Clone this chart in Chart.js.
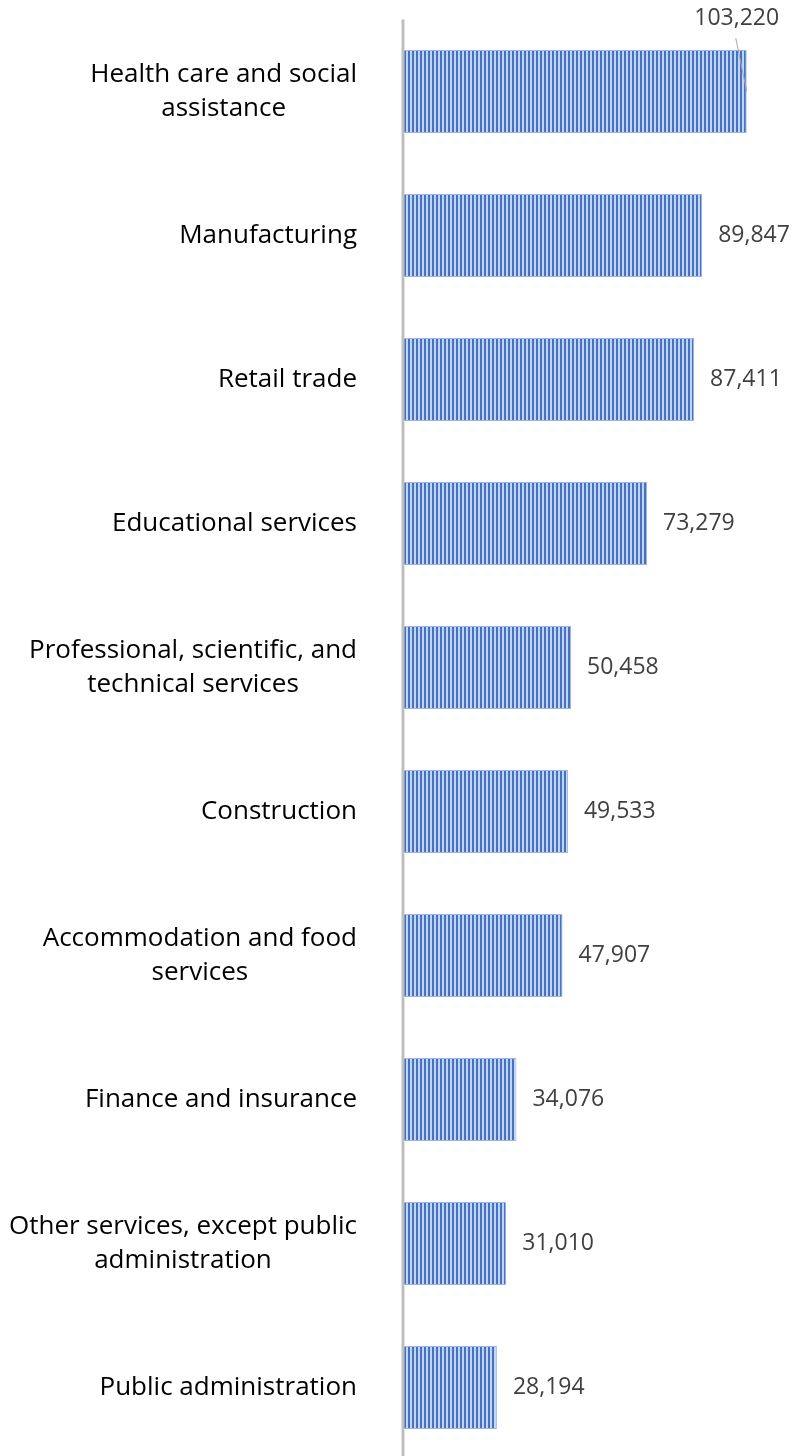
<!DOCTYPE html>
<html>
<head>
<meta charset="utf-8">
<script src="https://cdn.jsdelivr.net/npm/chart.js@4"></script>
<style>
  html, body { margin: 0; padding: 0; background: #fff; overflow: hidden; }
  #wrap { width: 804px; height: 1460px; }
</style>
</head>
<body>
<div id="wrap"><canvas id="chart"></canvas></div>
<script>
const industries = [
  ["Health care and social", "assistance"],
  ["Manufacturing"],
  ["Retail trade"],
  ["Educational services"],
  ["Professional, scientific, and", "technical services"],
  ["Construction"],
  ["Accommodation and food", "services"],
  ["Finance and insurance"],
  ["Other services, except public", "administration"],
  ["Public administration"]
];
const employees = [103220, 89847, 87411, 73279, 50458, 49533, 47907, 34076, 31010, 28194];
const axisMax = 120000;

// striped fill like the Excel pattern
const makeStripes = () => {
  const c = document.createElement("canvas");
  c.width = 4;
  c.height = 4;
  const g = c.getContext("2d");
  g.fillStyle = "#C3D3F0";
  g.fillRect(0, 0, 4, 4);
  g.fillStyle = "#4472C4";
  g.fillRect(0, 0, 2, 4);
  return g.createPattern(c, "repeat");
};

const fmt = (v) => v.toLocaleString("en-US");

const labelsPlugin = {
  id: "labelsPlugin",
  afterDatasetsDraw(chart) {
    const ctx = chart.ctx;
    const area = chart.chartArea;
    const bars = chart.getDatasetMeta(0).data;

    // vertical axis line drawn over the bar starts
    ctx.save();
    ctx.strokeStyle = "#BFBFBF";
    ctx.lineWidth = 3;
    ctx.beginPath();
    ctx.moveTo(area.left, area.top);
    ctx.lineTo(area.left, chart.height);
    ctx.stroke();

    // category labels, right aligned block, lines centered
    ctx.font = "26px 'Open Sans'";
    ctx.fillStyle = "#000000";
    ctx.textBaseline = "middle";
    ctx.textAlign = "center";
    const rightEdge = area.left - 46;
    const lineH = 34;
    industries.forEach((lines, i) => {
      const y = bars[i].y;
      const w = Math.max(...lines.map((l) => ctx.measureText(l).width));
      const cx = rightEdge - w / 2;
      const y0 = y - (lines.length - 1) * lineH / 2;
      lines.forEach((l, j) => ctx.fillText(l, cx, y0 + j * lineH));
    });

    // value labels
    ctx.font = "23px 'Open Sans'";
    ctx.fillStyle = "#404040";
    ctx.textAlign = "left";
    employees.forEach((v, i) => {
      const bar = bars[i];
      const txt = fmt(v);
      const w = ctx.measureText(txt).width;
      if (bar.x + 16 + w <= chart.width) {
        ctx.fillText(txt, bar.x + 16, bar.y);
      } else {
        const top = bar.y - bar.height / 2;
        const cx = bar.x - 10;
        ctx.textAlign = "center";
        ctx.fillText(txt, cx, top - 32);
        ctx.textAlign = "left";
        ctx.strokeStyle = "#A6A6A6";
        ctx.lineWidth = 1;
        ctx.beginPath();
        ctx.moveTo(cx - 1, top - 12);
        ctx.lineTo(bar.x, bar.y);
        ctx.stroke();
      }
    });
    ctx.restore();
  }
};

new Chart(document.getElementById("chart"), {
  type: "bar",
  data: {
    labels: industries.map((l) => l.join(" ")),
    datasets: [{
      data: employees,
      backgroundColor: makeStripes(),
      borderColor: "#9DB5E2",
      borderWidth: 1,
      borderSkipped: "left",
      categoryPercentage: 1,
      barPercentage: 0.576
    }]
  },
  options: {
    indexAxis: "y",
    responsive: true,
    maintainAspectRatio: false,
    animation: false,
    layout: { padding: { left: 403, right: 1.4, top: 19.5, bottom: 0.5 } },
    plugins: {
      legend: { display: false },
      tooltip: { enabled: false }
    },
    scales: {
      x: { display: false, min: 0, max: axisMax },
      y: { display: false, offset: true }
    }
  },
  plugins: [labelsPlugin]
});
</script>
</body>
</html>
